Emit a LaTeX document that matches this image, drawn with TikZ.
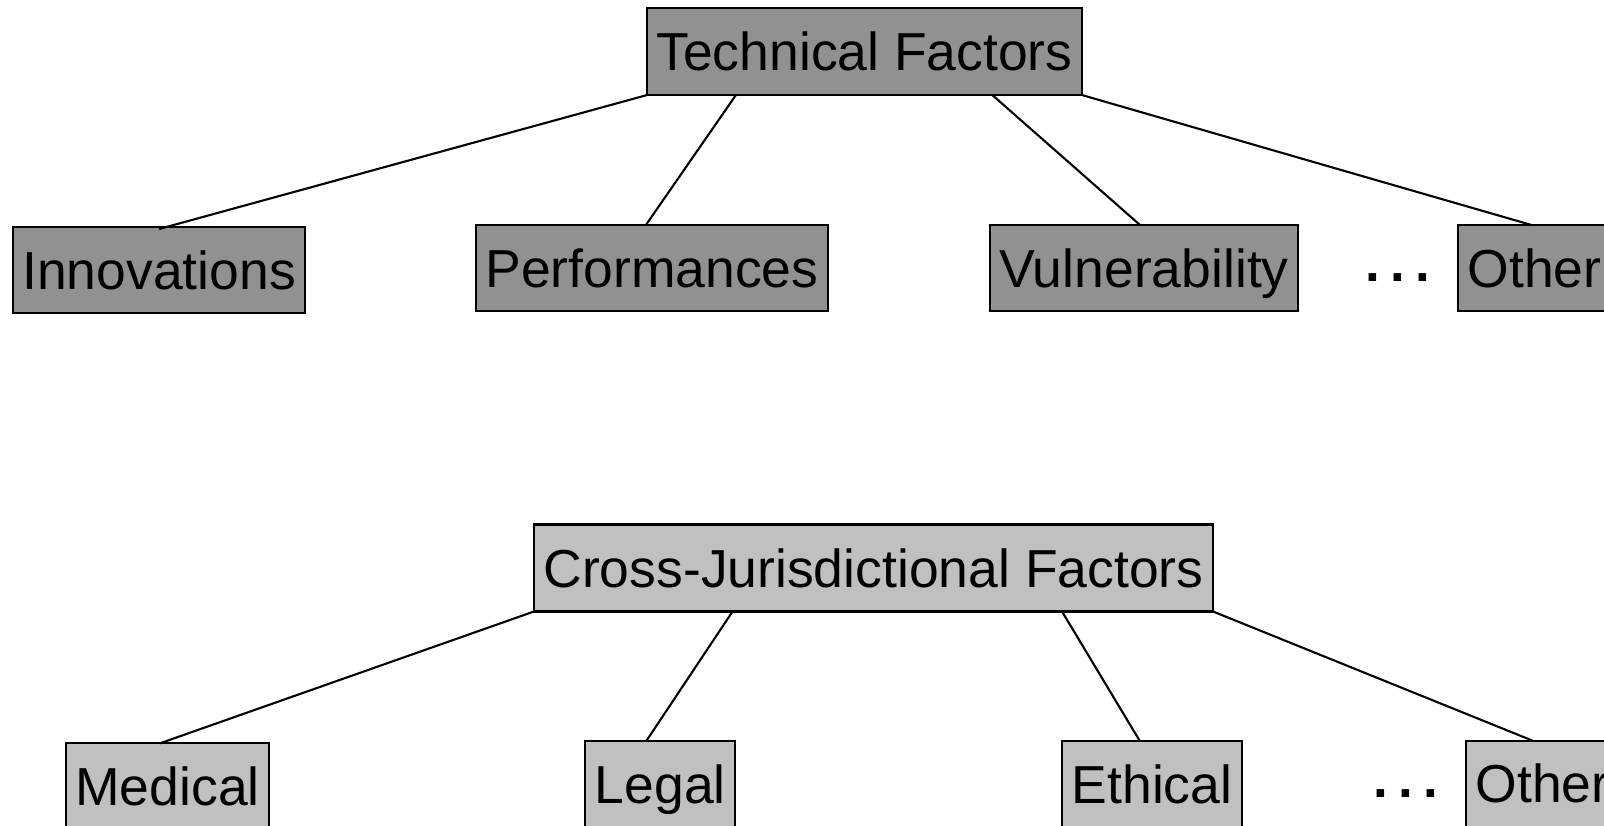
\documentclass[tikz,border=0pt]{standalone}
\usepackage{fontspec}
\setmainfont{Liberation Sans}
\newfontfamily\dotfont{Liberation Sans Bold}
\definecolor{topfill}{RGB}{145,145,145}
\definecolor{botfill}{RGB}{192,192,192}
\begin{document}
\begin{tikzpicture}[x=1pt,y=-1pt,
  box/.style={draw=black, line width=2.1pt, outer sep=0pt, inner xsep=9.5pt, inner ysep=0pt,
    text height=38.5pt, text depth=0pt, minimum height=86pt,
    font=\fontsize{53.5}{60}\selectfont},
  topbox/.style={box, fill=topfill},
  botbox/.style={box, fill=botfill},
  link/.style={draw=black, line width=2.1pt},
  dotrow/.style={inner sep=0pt, outer sep=0pt, text height=7.4pt, text depth=0pt,
    font=\dotfont\fontsize{53}{60}\selectfont}]
\useasboundingbox (0,0) rectangle (1604,826);
\clip (0,0) rectangle (1604,826);
\fill[white] (0,0) rectangle (1604,826);

% Technical tree
\node[topbox, minimum height=87pt] (tech) at (864.5,51.6) {Technical Factors};
\node[topbox] (innov) at (159.1,270) {Innovations};
\node[topbox] (perf) at (651.9,268) {Performances};
\node[topbox] (vuln) at (1144,268) {Vulnerability};
\node[topbox, anchor=west] (other1) at (1458,268) {Other};
\node[dotrow] (dots1) at (1397.5,278) {.\kern10.3pt.\kern10.3pt.};

\draw[link] (tech.south west) -- ([yshift=-2pt]innov.north);
\draw[link] ([xshift=89pt]tech.south west) -- ([xshift=-6pt]perf.north);
\draw[link] ([xshift=345.5pt]tech.south west) -- ([xshift=-4pt]vuln.north);
\draw[link] (tech.south east) -- ([xshift=-3pt]other1.north);

% Cross-jurisdictional tree
\node[botbox, minimum height=87pt] (cross) at (873.5,568) {Cross-Jurisdictional Factors};
\node[botbox] (medical) at (167.5,786.3) {Medical};
\node[botbox] (legal) at (660.3,784) {Legal};
\node[botbox] (ethical) at (1152,784.3) {Ethical};
\node[botbox, anchor=west] (other2) at (1466,783.6) {Other};
\node[dotrow] (dots2) at (1406,794) {.\kern10.3pt.\kern10.3pt.};

\draw[link] (cross.south west) -- ([xshift=-7.5pt]medical.north);
\draw[link] ([xshift=198.5pt]cross.south west) -- ([xshift=-14pt]legal.north);
\draw[link] ([xshift=528pt]cross.south west) -- ([xshift=-12pt]ethical.north);
\draw[link] (cross.south east) -- ([xshift=-10pt]other2.north);
\end{tikzpicture}
\end{document}
